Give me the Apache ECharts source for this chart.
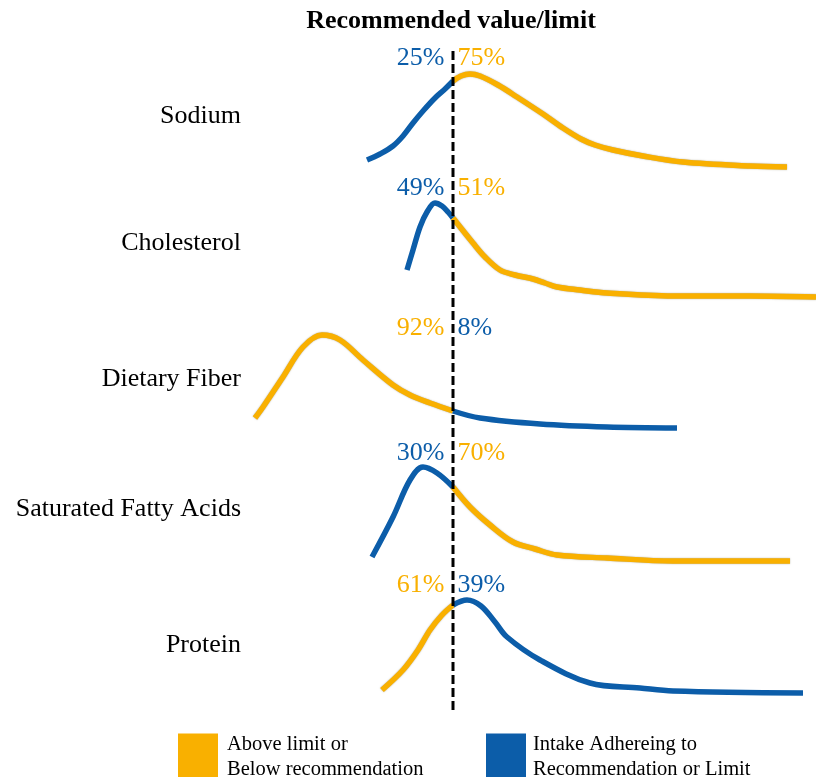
<!DOCTYPE html>
<html><head><meta charset="utf-8">
<script src="https://cdn.jsdelivr.net/npm/echarts@6/dist/echarts.min.js"></script>
<style>html,body{margin:0;padding:0;background:#fff}#c{width:816px;height:777px}</style>
</head><body><div id="c"></div>
<script>
// Nutrients (rows, top to bottom)
const nutrients = ['Sodium', 'Cholesterol', 'Dietary Fiber', 'Saturated Fatty Acids', 'Protein'];
// Which side of the recommended value is "adhering" (blue): 'left' or 'right'
const adhereSide = ['left', 'left', 'right', 'left', 'right'];
// Percent shares: left of line, right of line
const pctLeft  = ['25%', '49%', '92%', '30%', '61%'];
const pctRight = ['75%', '51%', '8%', '70%', '39%'];
// Density curves: x = intake relative to recommended value (0 = recommendation), y = scaled density
const sodiumLeft  = [[-86,10],[-73,16],[-60,24],[-50,34],[-40,47],[-30,59],[-18,72],[-8,81],[0,89]];
const sodiumRight = [[0,89],[8,94],[17,96],[27,94],[45,85],[64,73],[90,56],[110,42],[128,31],[142,25],[160,20],[190,14],[230,8],[297,4],[334,3]];
const cholLeft    = [[-46,30],[-40,50],[-33,73],[-26,88],[-18,97],[-11,94],[-5,88],[0,82]];
const cholRight   = [[0,82],[20,57],[32,43],[47,30],[62,25],[80,21],[92,17],[104,13],[127,10],[154,7],[220,4],[297,4],[363,3]];
const fiberLeft   = [[-198,12],[-190,23],[-170,53],[-150,83],[-131,95],[-113,90],[-90,70],[-60,45],[-43,35],[-23,27],[0,19]];
const fiberRight  = [[0,19],[27,12],[87,6],[154,3],[224,2]];
const sfaLeft     = [[-81,8],[-60,48],[-43,85],[-30,98],[-16,92],[0,78]];
const sfaRight    = [[0,78],[17,58],[37,40],[60,23],[82,16],[104,10],[154,7],[220,4],[337,4]];
const proteinLeft = [[-71,5],[-50,25],[-35,45],[-23,65],[-11,80],[0,90]];
const proteinRight= [[0,90],[14,95],[28,89],[42,73],[54,58],[87,35],[137,12],[187,7],[220,4],[350,2]];

const leftCurves  = [sodiumLeft, cholLeft, fiberLeft, sfaLeft, proteinLeft];
const rightCurves = [sodiumRight, cholRight, fiberRight, sfaRight, proteinRight];

const ORANGE = '#F9B000', BLUE = '#0C5DA9';
const NAME_OVER = 'Above limit or\nBelow recommendation';
const NAME_ADH = 'Intake Adhereing to\nRecommendation or Limit';
const FONT = '"Liberation Serif","Times New Roman",serif';

const XMIN = -453, XMAX = 363;
const rowTops = [60, 190, 320, 455, 585];
const rowLabelY = [114, 241, 377, 507, 643];
const pctLabelDy = [-2, -2, 8, -2, 0];
const ROWH = 110;

const grids = [], xAxes = [], yAxes = [], series = [], graphics = [];
nutrients.forEach((n, i) => {
  grids.push({left: 0, right: 0, top: rowTops[i], height: ROWH});
  xAxes.push({gridIndex: i, type: 'value', min: XMIN, max: XMAX, show: false});
  yAxes.push({gridIndex: i, type: 'value', min: 0, max: ROWH, show: false});
  const leftBlue = adhereSide[i] === 'left';
  const mk = (data, blue) => ({
    type: 'line', name: blue ? NAME_ADH : NAME_OVER, xAxisIndex: i, yAxisIndex: i,
    data: data, smooth: 0.35, symbol: 'none', z: 3,
    itemStyle: {color: blue ? BLUE : ORANGE},
    lineStyle: blue ? {color: BLUE, width: 5.5}
                    : {color: ORANGE, width: 5.5, shadowColor: 'rgba(90,80,40,0.55)', shadowBlur: 1.5},
    silent: true
  });
  series.push(mk(leftCurves[i], leftBlue));
  series.push(mk(rightCurves[i], !leftBlue));
  // percent labels
  series.push({
    type: 'scatter', xAxisIndex: i, yAxisIndex: i, symbolSize: 1, clip: false, silent: true, z: 2,
    itemStyle: {color: '#fff', opacity: 1},
    data: [
      {value: [0, ROWH], label: {show: true, position: 'left', distance: 8, offset: [0, pctLabelDy[i]], formatter: pctLeft[i],
        color: leftBlue ? BLUE : ORANGE, fontSize: 26, fontFamily: FONT}},
      {value: [0, ROWH], label: {show: true, position: 'right', distance: 4, offset: [0, pctLabelDy[i]], formatter: pctRight[i],
        color: leftBlue ? ORANGE : BLUE, fontSize: 26, fontFamily: FONT}}
    ]
  });
  graphics.push({type: 'text', right: 816 - 241, top: rowLabelY[i] - 11,
    style: {text: n, font: '26px ' + FONT, fill: '#000', align: 'right'}});
});
// overlay grid for the dashed recommendation line
const gi = nutrients.length;
grids.push({left: 0, right: 0, top: 48, height: 662});
xAxes.push({gridIndex: gi, type: 'value', min: XMIN, max: XMAX, show: false});
yAxes.push({gridIndex: gi, type: 'value', min: 0, max: 1, show: false});
series.push({type: 'line', xAxisIndex: gi, yAxisIndex: gi, data: [[0, 0], [0, 1]], symbol: 'none', silent: true, z: 4,
  lineStyle: {color: '#000', width: 3, type: [9, 4]}});

const chart = echarts.init(document.getElementById('c'), null, {renderer: 'canvas'});
chart.setOption({
  animation: false,
  backgroundColor: '#fff',
  title: {text: 'Recommended value/limit', left: 446, textAlign: 'center', top: 3,
    textStyle: {fontFamily: FONT, fontWeight: 'bold', fontSize: 26, color: '#000'}},
  legend: [
    {data: [NAME_OVER], left: 173, top: 727, icon: 'rect', itemWidth: 40, itemHeight: 47, selectedMode: false,
      textStyle: {fontFamily: FONT, fontSize: 20.5, lineHeight: 25, color: '#000', padding: [0, 0, 0, 4]}},
    {data: [NAME_ADH], left: 481, top: 727, icon: 'rect', itemWidth: 40, itemHeight: 47, selectedMode: false,
      textStyle: {fontFamily: FONT, fontSize: 20.5, lineHeight: 25, color: '#000', padding: [0, 0, 0, 2]}}
  ],
  grid: grids, xAxis: xAxes, yAxis: yAxes, series: series,
  graphic: graphics
});
</script></body></html>
